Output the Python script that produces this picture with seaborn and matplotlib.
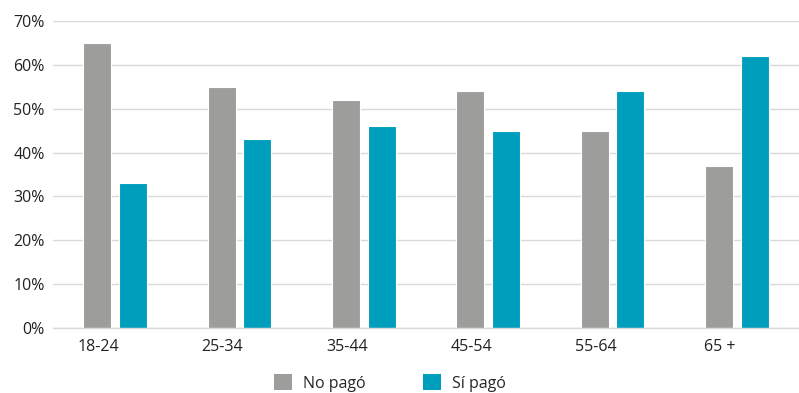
import matplotlib
matplotlib.use("Agg")
import matplotlib.pyplot as plt
import matplotlib.transforms as mtransforms
import seaborn as sns
import pandas as pd
from matplotlib.patches import Patch

categories = ["18-24", "25-34", "35-44", "45-54", "55-64", "65 +"]
no_pago = [65, 55, 52, 54, 45, 37]
si_pago = [33, 43, 46, 45, 54, 62]
series = ["No pagó", "Sí pagó"]
yticks = [0, 10, 20, 30, 40, 50, 60, 70]

df = pd.DataFrame({
    "cat": categories * 2,
    "val": no_pago + si_pago,
    "serie": [series[0]] * len(categories) + [series[1]] * len(categories),
})

sns.set_theme(style="white")
plt.rcParams["font.family"] = ["Open Sans", "DejaVu Sans"]

colors = {"No pagó": "#9d9d9c", "Sí pagó": "#009ebd"}

fig = plt.figure(figsize=(7.99, 3.93), dpi=100)
ax = fig.add_axes([53/799, 1 - 328/393, 746/799, (328 - 21)/393])

sns.barplot(data=df, x="cat", y="val", hue="serie", palette=colors, saturation=1,
            width=0.57, gap=0.21, ax=ax, legend=False, edgecolor="white", linewidth=0.8)

ax.set_ylim(0, 70)
ax.set_xlim(-0.5, len(categories) - 0.5)
ax.set_yticks(yticks)
ax.set_yticklabels([f"{v}%" for v in yticks])
ax.set_xlabel("")
ax.set_ylabel("")
ax.grid(axis="y", color="#d9d9d9", linewidth=1)
ax.set_axisbelow(True)
for s in ["top", "right", "left"]:
    ax.spines[s].set_visible(False)
ax.spines["bottom"].set_color("#d9d9d9")
ax.spines["bottom"].set_linewidth(1)
ax.tick_params(axis="both", length=0, labelsize=11.5, colors="#222222")
ax.tick_params(axis="y", pad=6)
ax.tick_params(axis="x", pad=8)

offset = mtransforms.ScaledTranslation(-17/100, 0, fig.dpi_scale_trans)
for lbl in ax.get_xticklabels():
    lbl.set_transform(lbl.get_transform() + offset)

handles = [Patch(facecolor=colors[s], edgecolor="none") for s in series]
fig.legend(handles, series, loc="center", bbox_to_anchor=(390/799, 1 - 383/393),
           ncol=2, frameon=False, fontsize=11.5, handlelength=1.1, handleheight=1.1,
           columnspacing=3.6, handletextpad=0.7)

fig.savefig("out.png", dpi=100)
